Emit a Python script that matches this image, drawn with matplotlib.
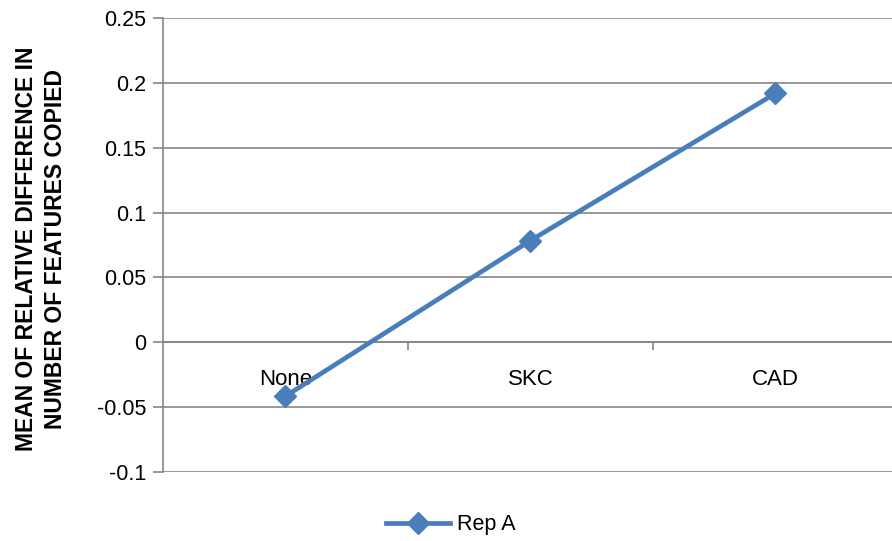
import matplotlib.pyplot as plt
from matplotlib.ticker import FixedLocator

plt.rcParams['font.family'] = ['Liberation Sans', 'DejaVu Sans']

# Mean relative difference per condition
conditions = ['None', 'SKC', 'CAD']
rep_a = [-0.0415, 0.0785, 0.192]
y_ticks = [-0.1, -0.05, 0, 0.05, 0.1, 0.15, 0.2, 0.25]
y_labels = ['-0.1', '-0.05', '0', '0.05', '0.1', '0.15', '0.2', '0.25']

grid_col = '#868686'
line_col = '#4A7EBB'

fig = plt.figure(figsize=(8.92, 5.41), dpi=100)
ax = fig.add_axes([0.1827, 0.1275, 0.824, 0.839])

x = list(range(len(conditions)))
line, = ax.plot(x, rep_a, color=line_col, linewidth=3.4, marker='D',
                markersize=11, label='Rep A', zorder=3)

ax.set_xlim(-0.5, 2.5)
ax.set_ylim(-0.1, 0.25)
ax.set_yticks(y_ticks)
ax.set_yticklabels(y_labels, fontsize=15.5)
ax.yaxis.grid(True, color=grid_col, linewidth=1.2)
ax.set_axisbelow(True)

# category axis sits on y = 0
for s in ['top', 'right']:
    ax.spines[s].set_visible(False)
ax.spines['bottom'].set_position(('data', 0))
ax.spines['bottom'].set_color(grid_col)
ax.spines['bottom'].set_linewidth(1.2)
ax.spines['left'].set_color(grid_col)
ax.spines['left'].set_linewidth(1.2)

ax.set_xticks(x)
ax.set_xticklabels(conditions, fontsize=16)
ax.tick_params(axis='x', which='major', length=0, pad=19)
ax.xaxis.set_minor_locator(FixedLocator([0.5, 1.5]))
ax.tick_params(axis='x', which='minor', length=6, width=1.2, color=grid_col)
ax.tick_params(axis='y', length=7, width=1.2, color=grid_col, pad=5)

fig.text(0.046, 0.54, 'MEAN OF RELATIVE DIFFERENCE IN\nNUMBER OF FEATURES COPIED',
         rotation=90, ha='center', va='center', fontsize=16.5, fontweight='bold',
         linespacing=1.35)

fig.legend(handles=[line], loc='center', bbox_to_anchor=(0.505, 0.03),
           frameon=False, fontsize=15.5, handlelength=3, handletextpad=0.3)

fig.savefig('out.png', dpi=100)
